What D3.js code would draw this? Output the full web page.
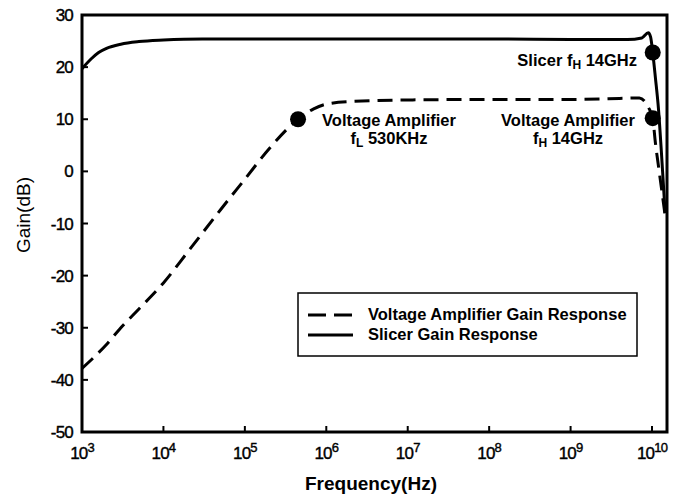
<!DOCTYPE html>
<html><head><meta charset="utf-8">
<script src="https://cdn.jsdelivr.net/npm/d3@7"></script>
<style>
body{margin:0;background:#fff;}
text{font-family:"Liberation Sans",Arial,sans-serif;fill:#000;}
</style></head>
<body><svg id="c" width="683" height="501"></svg>
<script>
// ---- data ----
const xTickExps = [3,4,5,6,7,8,9,10];
const yTicks = [30,20,10,0,-10,-20,-30,-40,-50];
const slicerFreq = [1e3,1.3e3,1.6e3,2e3,3e3,5e3,1e4,3e4,1e5,1e6,1e7,1e8,1e9,5e9,7.5e9,9e9,9.6e9,1.02e10,1.1e10,1.2e10,1.3e10,1.45e10];
const slicerGain = [19.7,21.6,22.8,23.6,24.4,24.9,25.2,25.4,25.4,25.4,25.4,25.4,25.3,25.3,25.6,26.6,25.8,22.8,18,12,4,-8];
const ampFreq = [1e3,1.5e3,2e3,3e3,5e3,1e4,2e4,5e4,1e5,2e5,4.5e5,7e5,1e6,2e6,1e7,1e8,1e9,4e9,7e9,9e9,1.02e10,1.1e10,1.2e10,1.3e10,1.45e10];
const ampGain = [-37.8,-35.2,-33.2,-30,-26.4,-21.4,-15.4,-7.4,-1.5,4.4,10,12,12.9,13.4,13.7,13.8,13.8,14,14.1,12.3,10.2,5.5,1,-3,-8.5];
const markerFreq = [4.5e5,1.02e10,1.02e10];
const markerGain = [10,22.8,10.2];
const seriesNames = ["Voltage Amplifier Gain Response","Slicer Gain Response"];

const svg = d3.select("#c");
const L=82,R=667,T=15,B=432;
const x = d3.scaleLog().domain([1e3, Math.pow(10,10.184)]).range([L,R]);
const y = d3.scaleLinear().domain([-50,30]).range([B,T]);

// ticks
const tk = svg.append("g");
yTicks.forEach(v=>{
  tk.append("line").attr("x1",L).attr("x2",L+6).attr("y1",y(v)).attr("y2",y(v)).attr("stroke","#000").attr("stroke-width",2);
  tk.append("text").attr("x",L-9).attr("y",y(v)+6).attr("text-anchor","end")
    .attr("font-size",17).attr("letter-spacing","-0.8").attr("stroke","#000").attr("stroke-width",0.4).text(v);
});
xTickExps.forEach(e=>{
  const px = x(Math.pow(10,e));
  tk.append("line").attr("x1",px).attr("x2",px).attr("y1",B).attr("y2",B-6).attr("stroke","#000").attr("stroke-width",2);
  const t = tk.append("text").attr("x",px).attr("y",B+27).attr("text-anchor","middle").attr("font-size",17)
    .attr("letter-spacing","-0.8").attr("stroke","#000").attr("stroke-width",0.4);
  t.append("tspan").text("10");
  t.append("tspan").attr("dy",-7).attr("font-size",13).text(e);
});

// frame
svg.append("rect").attr("x",L).attr("y",T).attr("width",R-L).attr("height",B-T)
  .attr("fill","none").attr("stroke","#000").attr("stroke-width",3);

const line = d3.line().x(d=>x(d[0])).y(d=>y(d[1])).curve(d3.curveMonotoneX);
svg.append("path").datum(ampFreq.map((f,i)=>[f,ampGain[i]])).attr("d",line)
  .attr("fill","none").attr("stroke","#000").attr("stroke-width",3).attr("stroke-dasharray","15,8");
svg.append("path").datum(slicerFreq.map((f,i)=>[f,slicerGain[i]])).attr("d",line)
  .attr("fill","none").attr("stroke","#000").attr("stroke-width",3);

markerFreq.forEach((f,i)=>{
  svg.append("circle").attr("cx",x(f)).attr("cy",y(markerGain[i])).attr("r",8).attr("fill","#000");
});

// annotations
function ann(xp,yp,anchor,parts){
  const t=svg.append("text").attr("x",xp).attr("y",yp).attr("text-anchor",anchor).attr("font-size",16.5).attr("font-weight","bold");
  parts.forEach(p=>{
    const s=t.append("tspan").text(p[0]);
    if(p[1]==="sub"){s.attr("font-size",12).attr("dy",3);}
    if(p[1]==="after"){s.attr("dy",-3);}
  });
}
ann(637,66,"end",[["Slicer f"],["H","sub"],[" 14GHz","after"]]);
ann(389,126,"middle",[["Voltage Amplifier"]]);
ann(389,144,"middle",[["f"],["L","sub"],[" 530KHz","after"]]);
ann(568,126,"middle",[["Voltage Amplifier"]]);
ann(568,144,"middle",[["f"],["H","sub"],[" 14GHz","after"]]);

// legend
const lg=svg.append("g");
lg.append("rect").attr("x",298).attr("y",293).attr("width",339).attr("height",63).attr("fill","#fff").attr("stroke","#000").attr("stroke-width",1.5);
lg.append("line").attr("x1",308).attr("x2",353).attr("y1",315).attr("y2",315).attr("stroke","#000").attr("stroke-width",3).attr("stroke-dasharray","18,8");
lg.append("line").attr("x1",308).attr("x2",353).attr("y1",335).attr("y2",335).attr("stroke","#000").attr("stroke-width",3);
lg.append("text").attr("x",368).attr("y",320).attr("font-size",16.5).attr("font-weight","bold").text(seriesNames[0]);
lg.append("text").attr("x",368).attr("y",340).attr("font-size",16.5).attr("font-weight","bold").text(seriesNames[1]);

// axis titles
svg.append("text").attr("x",371).attr("y",490).attr("text-anchor","middle").attr("font-size",19).attr("font-weight","bold").text("Frequency(Hz)");
svg.append("text").attr("transform","translate(30,215) rotate(-90)").attr("text-anchor","middle").attr("font-size",19).text("Gain(dB)");
</script></body></html>
